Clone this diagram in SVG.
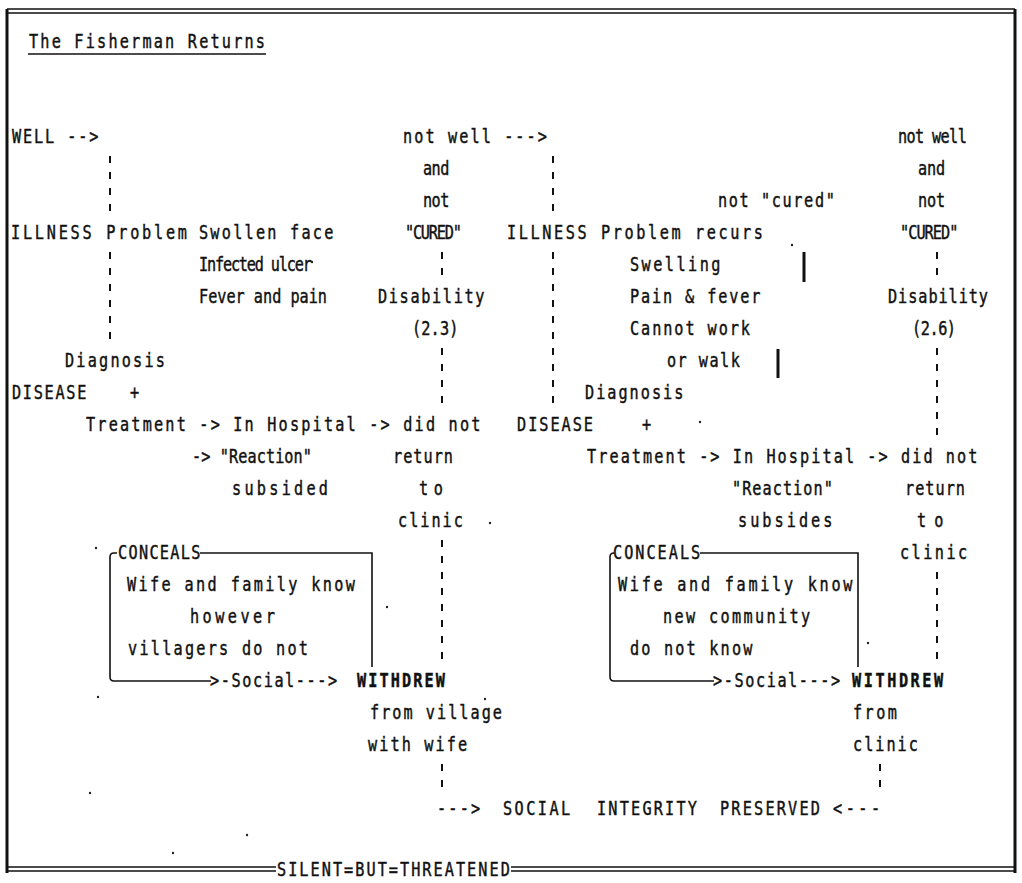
<svg xmlns="http://www.w3.org/2000/svg" width="1022" height="883" viewBox="0 0 1022 883">
<style>
.t{font-family:"DejaVu Sans Mono","Liberation Mono",monospace;font-size:19px;fill:#111;stroke:#111;stroke-width:0.45}
.b{font-weight:bold}
.d{stroke:#111;stroke-width:2;stroke-dasharray:7 9;fill:none}
.ln{stroke:#111;stroke-width:1.6;fill:none}
.bd{stroke:#111;stroke-width:3;fill:none}
.sp{fill:#222}
</style>
<rect width="1022" height="883" fill="#fff"/>
<g id="frame">
<path class="bd" d="M7 9 V873 M1015 9 V873"/>
<path class="ln" d="M7 9 H1015 M7 13 H1015"/>
<path class="ln" d="M7 867 H276 M7 871 H276 M511 867 H1015 M511 871 H1015"/>
<text class="t" transform="translate(277 876) scale(.8 1)" textLength="291" lengthAdjust="spacing">SILENT=BUT=THREATENED</text>
</g>
<g id="title">
<text class="t" transform="translate(29 48) scale(.8 1)" textLength="295" lengthAdjust="spacing">The Fisherman Returns</text>
<path class="ln" d="M28 54 H266"/>
</g>
<g id="connectors">
<path class="d" d="M110 156 V217 M110 252 V345"/>
<path class="d" d="M442 252 V281 M442 348 V409 M442 540 V665 M442 764 V793"/>
<path class="d" d="M553 156 V217 M553 252 V409"/>
<path class="d" d="M937 252 V281 M937 348 V441 M937 572 V665"/>
<path class="d" d="M880 764 V793"/>
<path class="bd" d="M804 252 V282 M778 349 V378"/>
</g>
<g id="well1">
<text class="t" transform="translate(12 143) scale(.8 1)" textLength="108" lengthAdjust="spacing">WELL --&gt;</text>
</g>
<g id="illness1">
<text class="t" transform="translate(11 239) scale(.8 1)" textLength="220" lengthAdjust="spacing">ILLNESS Problem</text>
<text class="t" transform="translate(199 239) scale(.8 1)" textLength="168" lengthAdjust="spacing">Swollen face</text>
<text class="t" transform="translate(199 271) scale(.8 1)" textLength="141" lengthAdjust="spacing">Infected ulcer</text>
<text class="t" transform="translate(199 303) scale(.8 1)" textLength="160" lengthAdjust="spacing">Fever and pain</text>
</g>
<g id="disease1">
<text class="t" transform="translate(65 367) scale(.8 1)" textLength="125" lengthAdjust="spacing">Diagnosis</text>
<text class="t" transform="translate(12 399) scale(.8 1)" textLength="93" lengthAdjust="spacing">DISEASE</text>
<text class="t" transform="translate(130 399) scale(.8 1)">+</text>
<text class="t" transform="translate(86 431) scale(.8 1)" textLength="493" lengthAdjust="spacing">Treatment -&gt; In Hospital -&gt; did not</text>
<text class="t" transform="translate(192 463) scale(.8 1)" textLength="150" lengthAdjust="spacing">-&gt; "Reaction"</text>
<text class="t" transform="translate(232 495) scale(.8 1)" textLength="120" lengthAdjust="spacing">subsided</text>
</g>
<g id="notwell1">
<text class="t" transform="translate(403 143) scale(.8 1)" textLength="180" lengthAdjust="spacing">not well ---&gt;</text>
<text class="t" transform="translate(423 175) scale(.8 1)" textLength="33" lengthAdjust="spacing">and</text>
<text class="t" transform="translate(423 207) scale(.8 1)" textLength="33" lengthAdjust="spacing">not</text>
<text class="t" transform="translate(405 239) scale(.8 1)" textLength="71" lengthAdjust="spacing">"CURED"</text>
<text class="t" transform="translate(378 303) scale(.8 1)" textLength="133" lengthAdjust="spacing">Disability</text>
<text class="t" transform="translate(412 335) scale(.8 1)" textLength="58" lengthAdjust="spacing">(2.3)</text>
</g>
<g id="notreturn1">
<text class="t" transform="translate(393 463) scale(.8 1)" textLength="75" lengthAdjust="spacing">return</text>
<text class="t" transform="translate(419 495) scale(.8 1)" textLength="30" lengthAdjust="spacing">to</text>
<text class="t" transform="translate(398 527) scale(.8 1)" textLength="81" lengthAdjust="spacing">clinic</text>
</g>
<g id="conceals1">
<path class="ln" d="M117 553 H114 Q110 553 110 557 V677 Q110 681 114 681 H211 M200 553 H372 V667"/>
<text class="t" transform="translate(118 559) scale(.8 1)" textLength="103" lengthAdjust="spacing">CONCEALS</text>
<text class="t" transform="translate(127 591) scale(.8 1)" textLength="285" lengthAdjust="spacing">Wife and family know</text>
<text class="t" transform="translate(190 623) scale(.8 1)" textLength="106" lengthAdjust="spacing">however</text>
<text class="t" transform="translate(128 655) scale(.8 1)" textLength="225" lengthAdjust="spacing">villagers do not</text>
<text class="t" transform="translate(210 687) scale(.8 1)" textLength="159" lengthAdjust="spacing">&gt;-Social---&gt;</text>
</g>
<g id="withdrew1">
<text class="t b" transform="translate(357 687) scale(.8 1)" textLength="110" lengthAdjust="spacing">WITHDREW</text>
<text class="t" transform="translate(370 719) scale(.8 1)" textLength="165" lengthAdjust="spacing">from village</text>
<text class="t" transform="translate(368 751) scale(.8 1)" textLength="124" lengthAdjust="spacing">with wife</text>
</g>
<g id="illness2">
<text class="t" transform="translate(718 207) scale(.8 1)" textLength="146" lengthAdjust="spacing">not "cured"</text>
<text class="t" transform="translate(507 239) scale(.8 1)" textLength="320" lengthAdjust="spacing">ILLNESS Problem recurs</text>
<text class="t" transform="translate(630 271) scale(.8 1)" textLength="113" lengthAdjust="spacing">Swelling</text>
<text class="t" transform="translate(630 303) scale(.8 1)" textLength="163" lengthAdjust="spacing">Pain &amp; fever</text>
<text class="t" transform="translate(630 335) scale(.8 1)" textLength="150" lengthAdjust="spacing">Cannot work</text>
<text class="t" transform="translate(667 367) scale(.8 1)" textLength="91" lengthAdjust="spacing">or walk</text>
</g>
<g id="disease2">
<text class="t" transform="translate(585 399) scale(.8 1)" textLength="123" lengthAdjust="spacing">Diagnosis</text>
<text class="t" transform="translate(517 431) scale(.8 1)" textLength="95" lengthAdjust="spacing">DISEASE</text>
<text class="t" transform="translate(642 431) scale(.8 1)">+</text>
<text class="t" transform="translate(587 463) scale(.8 1)" textLength="488" lengthAdjust="spacing">Treatment -&gt; In Hospital -&gt; did not</text>
<text class="t" transform="translate(732 495) scale(.8 1)" textLength="126" lengthAdjust="spacing">"Reaction"</text>
<text class="t" transform="translate(738 527) scale(.8 1)" textLength="118" lengthAdjust="spacing">subsides</text>
</g>
<g id="notwell2">
<text class="t" transform="translate(898 143) scale(.8 1)" textLength="86" lengthAdjust="spacing">not well</text>
<text class="t" transform="translate(918 175) scale(.8 1)" textLength="34" lengthAdjust="spacing">and</text>
<text class="t" transform="translate(918 207) scale(.8 1)" textLength="34" lengthAdjust="spacing">not</text>
<text class="t" transform="translate(900 239) scale(.8 1)" textLength="73" lengthAdjust="spacing">"CURED"</text>
<text class="t" transform="translate(888 303) scale(.8 1)" textLength="125" lengthAdjust="spacing">Disability</text>
<text class="t" transform="translate(912 335) scale(.8 1)" textLength="55" lengthAdjust="spacing">(2.6)</text>
</g>
<g id="notreturn2">
<text class="t" transform="translate(905 495) scale(.8 1)" textLength="75" lengthAdjust="spacing">return</text>
<text class="t" transform="translate(917 527) scale(.8 1)" textLength="33" lengthAdjust="spacing">to</text>
<text class="t" transform="translate(900 559) scale(.8 1)" textLength="84" lengthAdjust="spacing">clinic</text>
</g>
<g id="conceals2">
<path class="ln" d="M613 553 H614 Q610 553 610 557 V677 Q610 681 614 681 H714 M700 553 H858 V667"/>
<text class="t" transform="translate(613 559) scale(.8 1)" textLength="109" lengthAdjust="spacing">CONCEALS</text>
<text class="t" transform="translate(618 591) scale(.8 1)" textLength="293" lengthAdjust="spacing">Wife and family know</text>
<text class="t" transform="translate(663 623) scale(.8 1)" textLength="184" lengthAdjust="spacing">new community</text>
<text class="t" transform="translate(630 655) scale(.8 1)" textLength="153" lengthAdjust="spacing">do not know</text>
<text class="t" transform="translate(713 687) scale(.8 1)" textLength="159" lengthAdjust="spacing">&gt;-Social---&gt;</text>
</g>
<g id="withdrew2">
<text class="t b" transform="translate(852 687) scale(.8 1)" textLength="114" lengthAdjust="spacing">WITHDREW</text>
<text class="t" transform="translate(853 719) scale(.8 1)" textLength="55" lengthAdjust="spacing">from</text>
<text class="t" transform="translate(853 751) scale(.8 1)" textLength="81" lengthAdjust="spacing">clinic</text>
</g>
<g id="preserved">
<text class="t" transform="translate(437 815) scale(.8 1)" textLength="54" lengthAdjust="spacing">---&gt;</text>
<text class="t" transform="translate(503 815) scale(.8 1)" textLength="84" lengthAdjust="spacing">SOCIAL</text>
<text class="t" transform="translate(597 815) scale(.8 1)" textLength="125" lengthAdjust="spacing">INTEGRITY</text>
<text class="t" transform="translate(720 815) scale(.8 1)" textLength="125" lengthAdjust="spacing">PRESERVED</text>
<text class="t" transform="translate(833 815) scale(.8 1)" textLength="59" lengthAdjust="spacing">&lt;---</text>
</g>
<g id="specks">
<circle class="sp" cx="312" cy="262" r="1.2"/>
<circle class="sp" cx="96" cy="548" r="1.2"/>
<circle class="sp" cx="98" cy="697" r="1.2"/>
<circle class="sp" cx="90" cy="793" r="1.2"/>
<circle class="sp" cx="387" cy="607" r="1.2"/>
<circle class="sp" cx="490" cy="523" r="1.2"/>
<circle class="sp" cx="700" cy="422" r="1.2"/>
<circle class="sp" cx="868" cy="643" r="1.2"/>
<circle class="sp" cx="247" cy="835" r="1.2"/>
<circle class="sp" cx="173" cy="853" r="1.2"/>
<circle class="sp" cx="792" cy="245" r="1.2"/>
<circle class="sp" cx="485" cy="699" r="1.2"/>
</g>
</svg>
